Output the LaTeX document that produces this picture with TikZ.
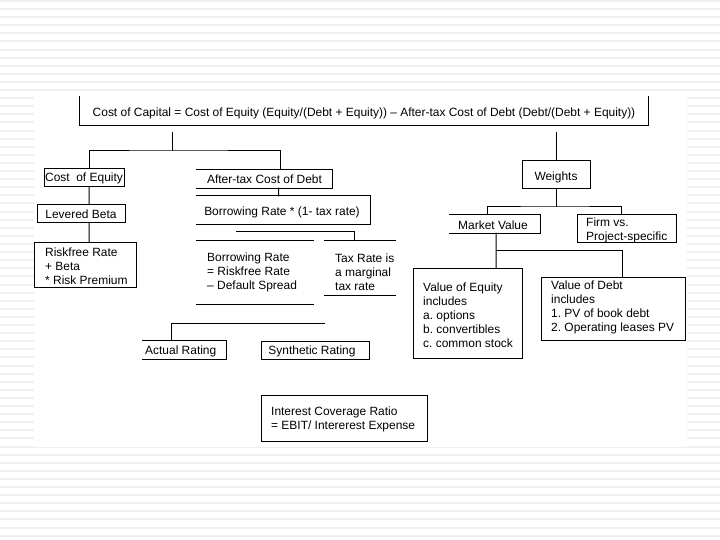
\documentclass[tikz,border=0pt]{standalone}
\usepackage{fontspec}
\setmainfont{Liberation Sans}
\frenchspacing
\begin{document}
\begin{tikzpicture}[x=1bp,y=-1bp]
\tikzset{
  wire/.style={line width=1bp, line cap=rect},
  box/.style={draw, line width=1bp, inner sep=0pt, font=\fontsize{12}{14}\selectfont},
  nobox/.style={inner sep=0pt, font=\fontsize{12}{14}\selectfont},
  txt/.style={inner sep=0pt, align=left, anchor=west, font=\fontsize{12}{14}\selectfont},
  ctxt/.style={inner sep=0pt, anchor=center, font=\fontsize{12}{14}\selectfont},
}
\frenchspacing
\definecolor{stripe}{gray}{0.94}
\useasboundingbox (0,0) rectangle (720,540);
\fill[white] (0,0) rectangle (720,540);
\foreach \i in {0,...,66} {\fill[stripe] (0,\i*8.1) rectangle (720,\i*8.1+2);}
\fill[white] (34,95) rectangle (687,447);

% main formula
\node[nobox, minimum width=568bp, minimum height=28bp] (cc) at (364,111) {};
\node[ctxt] (cct) at (364,113) {Cost of Capital = Cost of Equity (Equity/(Debt + Equity)) – After-tax Cost of Debt (Debt/(Debt + Equity))};
\draw[wire] (cc.north west) -- (cc.south west) -- (cc.south east) -- (cc.north east);

% left branch
\node[box, minimum width=80bp, minimum height=18bp] (coe) at (84,178) {Cost\ \ of Equity};
\node[nobox, minimum width=135bp, minimum height=18bp] (atcd) at (264.5,179) {After-tax Cost of Debt};
\draw[wire] (atcd.north west) -- (atcd.north east) -- (atcd.south east) -- (atcd.south west);
\coordinate (ccj) at (172,151);
\draw[wire, shorten <=7bp] (cc.south -| ccj) -- (ccj);
\draw[wire] ([xshift=5bp]coe.north) |- (ccj) -| ([xshift=15.5bp]atcd.north);

\node[box, minimum width=88bp, minimum height=18bp] (lb) at (81,214) {Levered Beta};
\draw[wire] ([xshift=5bp]coe.south) -- ([xshift=8bp]lb.north);
\node[box, minimum width=101bp, minimum height=44bp] (rf) at (85.5,265) {};
\node[txt] (rft) at (45,266) {Riskfree Rate\\+ Beta\\* Risk Premium};
\draw[wire] ([xshift=8bp]lb.south) -- ([xshift=3.5bp]rf.north);

\node[nobox, minimum width=173bp, minimum height=28bp] (br) at (283.5,210) {};
\node[ctxt] (brt) at (282,212) {Borrowing Rate * (1- tax rate)};
\draw[wire] (br.north west) -- (br.north east) -- (br.south east) -- (br.south west);
\draw[wire] ([xshift=14bp]atcd.south) -- ([xshift=-5bp]br.north);

\node[nobox, minimum width=116bp, minimum height=63bp] (brr) at (255,272.5) {};
\draw[wire] (brr.north west) -- (brr.north east);
\draw[wire] (brr.south west) -- (brr.south east);
\node[txt] (brrt) at (207,272.5) {Borrowing Rate\\= Riskfree Rate\\– Default Spread};
\node[nobox, minimum width=71bp, minimum height=54bp] (tr) at (360,268) {};
\draw[wire] (tr.north west) -- (tr.north east);
\draw[wire] (tr.south west) -- (tr.south east);
\node[txt] (trt) at (335,272.5) {Tax Rate is\\a marginal\\tax rate};
\coordinate (brj) at (236,232);
\draw[wire] (brj) -| ([xshift=-6bp]tr.north);

\node[nobox, minimum width=83bp, minimum height=18bp] (ar) at (184.5,350) {};
\draw[wire] (ar.north west) -- (ar.north east) -- (ar.south east) -- (ar.south west);
\node[txt] (art) at (145,351) {Actual Rating};
\coordinate (arj) at (324,323);
\draw[wire] (arj) -| ([xshift=-13.5bp]ar.north);
\node[box, minimum width=108bp, minimum height=18bp] (sr) at (315,350) {};
\node[ctxt] (srt) at (312,351) {Synthetic Rating};

\node[box, minimum width=166bp, minimum height=46bp] (icr) at (344,418) {};
\node[txt] (icrt) at (271,419) {Interest Coverage Ratio\\= EBIT/ Intererest Expense};

% right branch
\node[box, minimum width=68bp, minimum height=28bp] (w) at (556,175) {};
\node[ctxt] (wt) at (556,177.5) {Weights};
\draw[wire, shorten <=7bp] (cc.south -| w.north) -- (w.north);
\node[nobox, minimum width=90bp, minimum height=18bp] (mv) at (495,224) {};
\node[ctxt] (mvt) at (493,225) {Market Value};
\draw[wire] (mv.north west) -- (mv.north east) -- (mv.south east) -- (mv.south west);
\node[box, minimum width=99bp, minimum height=28bp] (fv) at (626.5,229) {};
\node[txt] (fvt) at (586,230.5) {Firm vs.\\Project-specific};
\coordinate (wj) at (556,207);
\draw[wire] (w.south) -- (wj);
\draw[wire] ([xshift=-8bp]mv.north) |- (wj) -| ([xshift=-5.5bp]fv.north);

\node[box, minimum width=109bp, minimum height=89bp] (ve) at (467.5,313.5) {};
\node[txt] (vet) at (423,315) {Value of Equity\\includes\\a. options\\b. convertibles\\c. common stock};
\node[box, minimum width=144bp, minimum height=62bp] (vd) at (613,309) {};
\node[txt] (vdt) at (551,307.5) {Value of Debt\\includes\\1. PV of book debt\\2. Operating leases PV};
\coordinate (mvj) at (496,251);
\draw[wire] ([xshift=1bp]mv.south) -- ([xshift=28.5bp]ve.north);
\draw[wire] (mvj) -| ([xshift=9bp]vd.north);
\end{tikzpicture}
\end{document}
